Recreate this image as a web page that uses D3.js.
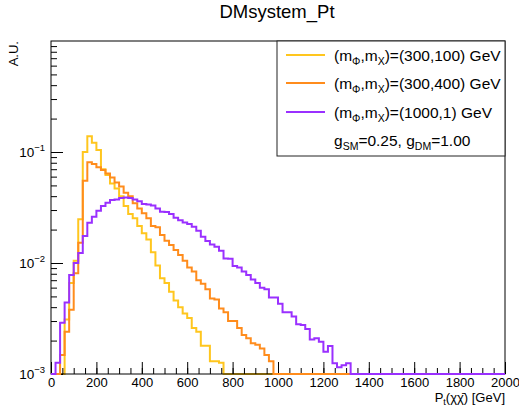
<!DOCTYPE html>
<html>
<head>
<meta charset="utf-8">
<script src="https://cdn.jsdelivr.net/npm/d3@7"></script>
<style>
  body { margin: 0; background: #fff; }
  text { font-family: "Liberation Sans", Arial, sans-serif; fill: #000; }
</style>
</head>
<body>
<div id="chart"></div>
<script>
// DATA //
// 20 GeV bins starting at 0, bins not listed are empty
const binWidth = 20;
const nBins = 100;

const yellowVals = [0, 0, 0, 0.0031, 0.0066, 0.0105, 0.0248, 0.100, 0.139, 0.121,
  0.104, 0.070, 0.062, 0.052, 0.047, 0.040, 0.0326, 0.0276, 0.0253, 0.0215,
  0.0185, 0.0163, 0.0125, 0.0095, 0.0073, 0.0066, 0.0055, 0.0046, 0.0040, 0.0035,
  0.0032, 0.0026, 0.0024, 0.0018, 0.0018, 0.0013, 0.0013, 0.00126];

const orangeVals = [0, 0, 0.00148, 0.0024, 0.0038, 0.0081, 0.0152, 0.055, 0.081, 0.078,
  0.073, 0.069, 0.064, 0.059, 0.053, 0.049, 0.043, 0.040, 0.0345, 0.031,
  0.028, 0.0253, 0.0215, 0.021, 0.0179, 0.0159, 0.0145, 0.0131, 0.0118, 0.0105,
  0.0091, 0.0084, 0.0070, 0.0065, 0.0058, 0.0048, 0.0047, 0.0039, 0.0036, 0.0030,
  0.0030, 0.0026, 0.00224, 0.0021, 0.00189, 0.00183, 0.0017, 0.00148, 0.0013];

const purpleVals = [0, 0.00126, 0.0029, 0.0044, 0.0078, 0.0100, 0.0123, 0.0175, 0.0231, 0.0261,
  0.0296, 0.0326, 0.0349, 0.037, 0.0373, 0.0385, 0.039, 0.0385, 0.0373, 0.036,
  0.034, 0.0336, 0.0330, 0.031, 0.029, 0.0288, 0.0277, 0.0255, 0.0243, 0.0232,
  0.0224, 0.0212, 0.0195, 0.0172, 0.0158, 0.0147, 0.014, 0.0129, 0.011, 0.0109,
  0.0094, 0.0091, 0.0084, 0.0078, 0.0071, 0.0066, 0.0060, 0.0058, 0.0049, 0.0049,
  0.0043, 0.0036, 0.0036, 0.0033, 0.0028, 0.00276, 0.00254, 0.00205, 0.0021, 0.00195,
  0.00159, 0.00179, 0.00125, 0.00115, 0.0012, 0.00125];

const seriesNames = ["yellow", "orange", "purple"];
const seriesMasses = ["(300,100)", "(300,400)", "(1000,1)"];
const xTickVals = [0, 200, 400, 600, 800, 1000, 1200, 1400, 1600, 1800, 2000];
const yTickExps = [-3, -2, -1];

const colors = { yellow: "#ffc61e", orange: "#ff8c1c", purple: "#9a30ff" };

// DIMENSIONS //
const W = 519, H = 409;
const frame = { left: 51, right: 505, top: 41, bottom: 374 };

const svg = d3.select("#chart").append("svg")
  .attr("width", W).attr("height", H);

const xScale = d3.scaleLinear().domain([0, 2000]).range([frame.left, frame.right]);
const yScale = d3.scaleLog().domain([1e-3, 1]).range([frame.bottom, frame.top]);

svg.append("defs").append("clipPath").attr("id", "plotclip")
  .append("rect").attr("x", frame.left).attr("y", frame.top - 1)
  .attr("width", frame.right - frame.left).attr("height", frame.bottom - frame.top + 2);

// step line of one histogram
function histPath(vals) {
  const pts = [];
  for (let i = 0; i < nBins; i++) {
    const v = Math.max(vals[i] || 0, 1e-3);
    pts.push([xScale(i * binWidth), yScale(v)]);
    pts.push([xScale((i + 1) * binWidth), yScale(v)]);
  }
  return d3.line()(pts);
}

function drawHist(vals, col) {
  svg.append("path")
    .attr("d", histPath(vals))
    .attr("clip-path", "url(#plotclip)")
    .attr("fill", "none")
    .attr("stroke", col)
    .attr("stroke-width", 2);
}

// first histogram goes under the frame
drawHist(yellowVals, colors.yellow);

// FRAME + AXES //
svg.append("rect")
  .attr("x", frame.left).attr("y", frame.top)
  .attr("width", frame.right - frame.left).attr("height", frame.bottom - frame.top)
  .attr("fill", "none").attr("stroke", "#000").attr("stroke-width", 1);

// x ticks (pointing into the plot)
const xMinor = d3.range(0, 2001, 50);
svg.append("g").attr("transform", `translate(0,${frame.bottom})`)
  .call(d3.axisBottom(xScale).tickValues(xMinor).tickSize(-6).tickFormat(""))
  .call(g => g.select(".domain").remove());
svg.append("g").attr("transform", `translate(0,${frame.bottom})`)
  .call(d3.axisBottom(xScale).tickValues(xTickVals).tickSize(-12).tickPadding(4)
    .tickFormat(d3.format("d")))
  .call(g => g.select(".domain").remove())
  .call(g => g.selectAll("text").attr("font-size", 13)
    .attr("font-family", "Liberation Sans, Arial, sans-serif"));

// y ticks
const yMinor = [];
yTickExps.forEach(e => { for (let m = 2; m <= 9; m++) yMinor.push(m * Math.pow(10, e)); });
svg.append("g").attr("transform", `translate(${frame.left},0)`)
  .call(d3.axisLeft(yScale).tickValues(yMinor).tickSize(-6).tickFormat(""))
  .call(g => g.select(".domain").remove());
svg.append("g").attr("transform", `translate(${frame.left},0)`)
  .call(d3.axisLeft(yScale).tickValues(yTickExps.map(e => Math.pow(10, e)))
    .tickSize(-12).tickFormat(""))
  .call(g => g.select(".domain").remove());

// y labels 10^k
yTickExps.forEach(e => {
  const t = svg.append("text")
    .attr("x", frame.left - 6).attr("y", yScale(Math.pow(10, e)) + 5)
    .attr("text-anchor", "end").attr("font-size", 13.5);
  t.append("tspan").text("10");
  t.append("tspan").attr("dy", -6).attr("font-size", 9.5).text("\u2212" + (-e));
});

// other histograms on top of the frame
drawHist(orangeVals, colors.orange);
drawHist(purpleVals, colors.purple);

// TITLES //
svg.append("text")
  .attr("x", 277).attr("y", 18)
  .attr("text-anchor", "middle").attr("font-size", 18.5)
  .text("DMsystem_Pt");

svg.append("text")
  .attr("transform", `translate(18,${frame.top}) rotate(-90)`)
  .attr("text-anchor", "end").attr("font-size", 13)
  .text("A.U.");

const xt = svg.append("text")
  .attr("x", frame.right).attr("y", 402)
  .attr("text-anchor", "end").attr("font-size", 13);
xt.append("tspan").text("P");
xt.append("tspan").attr("dy", 3).attr("font-size", 9).text("t");
xt.append("tspan").attr("dy", -3).text("(\u03c7\u03c7\u0304) [GeV]");

// LEGEND //
const lg = svg.append("g");
lg.append("rect")
  .attr("x", 277).attr("y", frame.top)
  .attr("width", frame.right - 277).attr("height", 115)
  .attr("fill", "#fff").attr("stroke", "#222").attr("stroke-width", 1);

const entryY = [55, 83, 112];
seriesNames.forEach((s, i) => {
  lg.append("line")
    .attr("x1", 286).attr("x2", 325)
    .attr("y1", entryY[i]).attr("y2", entryY[i])
    .attr("stroke", colors[s]).attr("stroke-width", 2);
  const t = lg.append("text")
    .attr("x", 334).attr("y", entryY[i] + 5.5)
    .attr("font-size", 15.5);
  t.append("tspan").text("(m");
  t.append("tspan").attr("dy", 4).attr("font-size", 10.5).text("\u03a6");
  t.append("tspan").attr("dy", -4).text(",m");
  t.append("tspan").attr("dy", 4).attr("font-size", 10.5).text("X");
  t.append("tspan").attr("dy", -4).text(")=" + seriesMasses[i] + " GeV");
});

const gt = lg.append("text").attr("x", 334).attr("y", 146).attr("font-size", 15.5);
gt.append("tspan").text("g");
gt.append("tspan").attr("dy", 4).attr("font-size", 10.5).text("SM");
gt.append("tspan").attr("dy", -4).text("=0.25, g");
gt.append("tspan").attr("dy", 4).attr("font-size", 10.5).text("DM");
gt.append("tspan").attr("dy", -4).text("=1.00");
</script>
</body>
</html>
